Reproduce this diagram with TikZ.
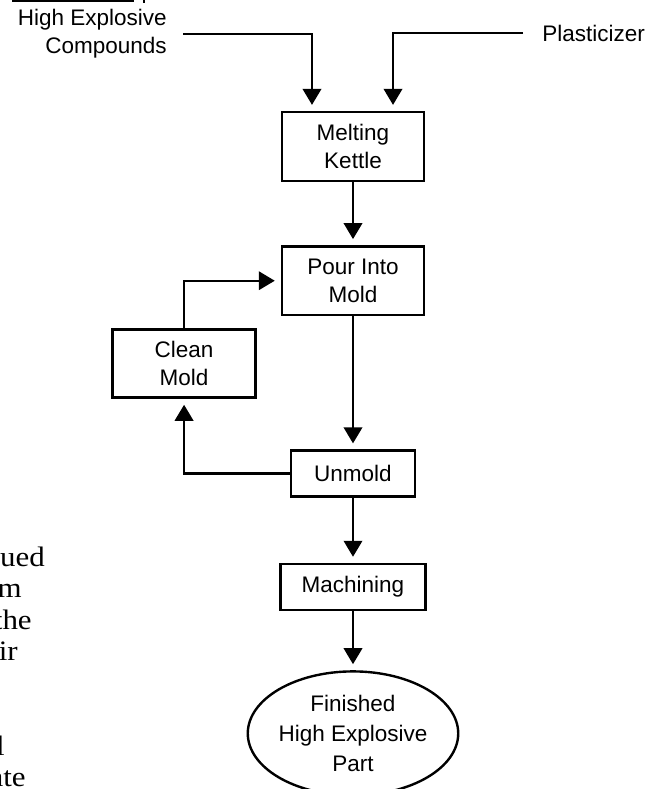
\documentclass[tikz,border=0pt]{standalone}
\usepackage{fontspec}
\setmainfont{Liberation Sans}
\newfontfamily\bodyserif{Liberation Serif}[FakeStretch=1.1]
\usetikzlibrary{arrows.meta, positioning, shapes.geometric}

\begin{document}
\begin{tikzpicture}[
  x=0.025cm, y=0.025cm,
  font=\fontsize{16}{20}\selectfont,
  box/.style={draw, line width=1.7pt, align=center, inner sep=0pt, minimum width=3.55cm, minimum height=1.72cm},
  flat/.style={box, minimum height=1.15cm},
  arr/.style={-{Triangle[length=0.4cm, width=0.46cm]}, line width=1.7pt, shorten >=0.15cm},
  frag/.style={font=\bodyserif\fontsize{20}{22}\selectfont, anchor=base east, inner sep=0pt}
]
\useasboundingbox (0,0) rectangle (663,-789);
\clip (0,0) rectangle (663,-789);

% inputs
\node[align=right, inner sep=0pt, anchor=east] (hec) at (167,-34) {High Explosive\\Compounds};
\node[inner sep=0pt, anchor=west] (plast) at (542,-33) {Plasticizer};

% process chain
\node[box] (melt) at (353,-146.5) {Melting\\Kettle};
\node[box, below=1.575cm of melt] (pour) {Pour Into\\Mold};
\node[box, minimum width=3.575cm, minimum height=1.7cm, below left=0.3cm and 0.6cm of pour] (clean) {Clean\\Mold};
\node[flat, minimum width=3.1cm, below=3.325cm of pour] (unmold) {Unmold};
\node[flat, minimum width=3.625cm, below=1.625cm of unmold] (mach) {Machining};
\node[draw, ellipse, line width=1.7pt, minimum width=5.2cm, minimum height=3.1cm, inner sep=0pt,
  align=center, font=\fontsize{16}{21.3}\selectfont, below=1.475cm of mach] (part) {Finished\\High Explosive\\Part};

\draw[arr] ([xshift=0.4cm]hec.east) -| ([xshift=-1.025cm]melt.north);
\draw[arr] ([xshift=-0.475cm]plast.west) -| ([xshift=1cm]melt.north);
\draw[arr] (melt) -- (pour);
\draw[arr] (pour) -- (unmold);
\draw[arr] (unmold.west) -| (clean.south);
\draw[arr] (clean.north) |- (pour.west);
\draw[arr] (unmold) -- (mach);
\draw[arr] (mach) -- (part);

% cut-off page text
\draw[line width=1.2pt] (12,-1) -- (134,-1);
\draw[line width=0.8pt] (144,0) -- (144,-3);
\node[frag] (b1) at (45,-566) {ued};
\node[frag] (b2) at (22,-597.5) {m};
\node[frag] (b3) at (32,-629) {the};
\node[frag] (b4) at (18,-660.5) {ir};
\node[frag] (b5) at (5,-755) {l};
\node[frag] (b6) at (26,-786.5) {ate};
\end{tikzpicture}
\end{document}
